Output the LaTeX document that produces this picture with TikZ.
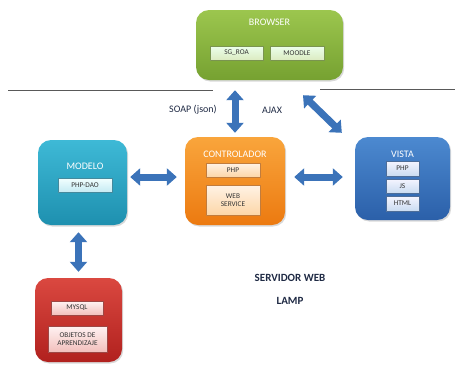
\documentclass[tikz,border=0pt]{standalone}
\usepackage{fontspec}
\setmainfont{Carlito}
\usetikzlibrary{arrows.meta,shadows}
\definecolor{brtop}{HTML}{9CC64E}\definecolor{brbot}{HTML}{76A131}
\definecolor{cttop}{HTML}{F9A53C}\definecolor{ctbot}{HTML}{EC7A10}
\definecolor{motop}{HTML}{3EB9D6}\definecolor{mobot}{HTML}{1E90AF}
\definecolor{vitop}{HTML}{4C89D0}\definecolor{vibot}{HTML}{2B60A9}
\definecolor{dbtop}{HTML}{DA4840}\definecolor{dbbot}{HTML}{B1211E}
\definecolor{arrblue}{HTML}{3B73B9}
\definecolor{labtxt}{HTML}{1F2A44}
\tikzset{
 mainbox/.style={rounded corners=13pt,draw=none,drop shadow={shadow xshift=1.2pt,shadow yshift=-1.5pt,opacity=0.3}},
 innerbox/.style={draw=#1!60!gray,line width=0.3pt,text=black!80,font=\fontsize{7.3}{8.3}\selectfont,align=center,inner sep=1pt,
  drop shadow={shadow xshift=0.8pt,shadow yshift=-0.8pt,opacity=0.3}},
 boxtitle/.style={text=white,font=\fontsize{10}{12}\selectfont},
 dblarrow/.style={draw=arrblue,line width=7pt,{Triangle[width=17pt,length=10pt]}-{Triangle[width=17pt,length=10pt]}},
 labtext/.style={text=labtxt,font=\fontsize{10}{12}\selectfont}
}
\begin{document}
\begin{tikzpicture}[x=1pt,y=-1pt,line join=round,line cap=butt]
 \useasboundingbox (0,0) rectangle (462,365);
 \draw[gray!70!black,line width=0.9pt] (8,90)--(213,90) (320,89)--(455,89);
 % browser
 \node[mainbox,top color=brtop,bottom color=brbot,minimum width=147pt,minimum height=70pt] (browser) at (269.5,45) {};
 \node[boxtitle] (brtitle) at (269.5,22) {BROWSER};
 \node[innerbox=brbot,top color=green!8!white,bottom color=brtop!35!white,minimum width=53pt,minimum height=14pt] (sgroa) at (236.5,53) {SG\_ROA};
 \node[innerbox=brbot,top color=green!8!white,bottom color=brtop!35!white,minimum width=54pt,minimum height=14pt] (moodle) at (297,53) {MOODLE};
 % controlador
 \node[mainbox,top color=cttop,bottom color=ctbot,minimum width=100pt,minimum height=88pt] (ctrl) at (235,181) {};
 \node[boxtitle] (cttitle) at (235,154) {CONTROLADOR};
 \node[innerbox=ctbot,top color=orange!10!white,bottom color=cttop!45!white,minimum width=54pt,minimum height=14pt] (ctphp) at (233,170) {PHP};
 \node[innerbox=ctbot,top color=orange!10!white,bottom color=cttop!45!white,minimum width=54pt,minimum height=30pt] (ctws) at (233,200) {WEB\\SERVICE};
 % modelo
 \node[mainbox,top color=motop,bottom color=mobot,minimum width=89pt,minimum height=85pt] (modelo) at (82.5,182.5) {};
 \node[boxtitle] (motitle) at (85,166) {MODELO};
 \node[innerbox=mobot,top color=cyan!5!white,bottom color=motop!30!white,minimum width=54pt,minimum height=14pt] (phpdao) at (85,185) {PHP-DAO};
 % vista
 \node[mainbox,top color=vitop,bottom color=vibot,minimum width=95pt,minimum height=83pt] (vista) at (402.5,178.5) {};
 \node[boxtitle] (vititle) at (402.5,154) {VISTA};
 \node[innerbox=vibot,top color=blue!4!white,bottom color=vitop!30!white,minimum width=33pt,minimum height=15pt] (viphp) at (402.5,168.5) {PHP};
 \node[innerbox=vibot,top color=blue!4!white,bottom color=vitop!30!white,minimum width=33pt,minimum height=14pt] (vijs) at (402.5,186) {JS};
 \node[innerbox=vibot,top color=blue!4!white,bottom color=vitop!30!white,minimum width=33pt,minimum height=15pt] (vihtml) at (402.5,203.5) {HTML};
 % base de datos
 \node[mainbox,top color=dbtop,bottom color=dbbot,minimum width=87pt,minimum height=84pt] (db) at (78.5,320) {};
 \node[innerbox=dbbot,top color=red!5!white,bottom color=dbtop!35!white,minimum width=52pt,minimum height=14pt] (mysql) at (77,308) {MYSQL};
 \node[innerbox=dbbot,top color=red!5!white,bottom color=dbtop!35!white,minimum width=59pt,minimum height=26pt] (objetos) at (77.5,339) {OBJETOS DE\\APRENDIZAJE};
 % conexiones
 \draw[dblarrow,shorten <=10pt,shorten >=4pt] (ctrl.north |- browser.south) -- (ctrl.north);
 \draw[dblarrow] ([xshift=33.5pt,yshift=-15pt]browser.south) -- ([xshift=-13pt,yshift=4pt]vista.north west);
 \draw[dblarrow,shorten <=3pt,shorten >=8pt] ([yshift=5.5pt]modelo.east) -- ([yshift=4pt]ctrl.west);
 \draw[dblarrow,shorten <=9pt,shorten >=12pt] ([yshift=4pt]ctrl.east) -- ([yshift=1.5pt]vista.west);
 \draw[dblarrow,shorten <=7pt,shorten >=6pt] (db.north |- modelo.south) -- (db.north);
 \node[labtext] (soap) at (193,110) {SOAP (json)};
 \node[labtext] (ajax) at (272,110) {AJAX};
 \node[labtext,font=\fontsize{11}{13}\selectfont\bfseries] (servidor) at (290,278) {SERVIDOR WEB};
 \node[labtext,font=\fontsize{11}{13}\selectfont\bfseries] (lamp) at (290,301) {LAMP};
\end{tikzpicture}
\end{document}
